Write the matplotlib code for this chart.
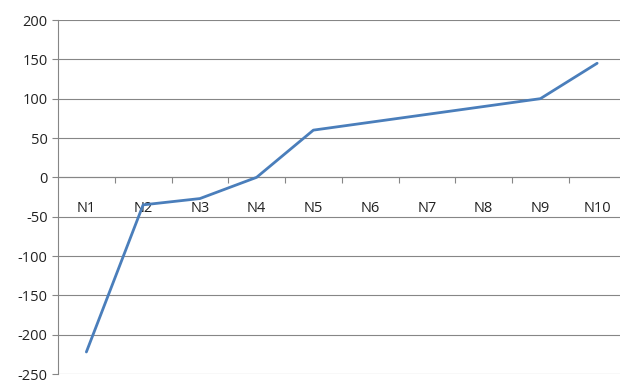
import matplotlib
matplotlib.use("Agg")
import matplotlib.pyplot as plt
from matplotlib.ticker import FixedLocator

categories = ["N1", "N2", "N3", "N4", "N5", "N6", "N7", "N8", "N9", "N10"]
values = [-222, -35, -27, 0, 60, 70, 80, 90, 100, 145]
yticks = [-250, -200, -150, -100, -50, 0, 50, 100, 150, 200]

plt.rcParams['font.family'] = ['Open Sans', 'DejaVu Sans']
grey = "#868686"

fig = plt.figure(figsize=(6.2, 3.8), dpi=100)
ax = fig.add_axes([58/620, 6/380, 567.5/620, 354/380])

x = list(range(len(categories)))
ax.plot(x, values, color="#4A7EBB", linewidth=2.0, solid_capstyle="round", zorder=3)

ax.set_xlim(-0.5, len(categories) - 0.5)
ax.set_ylim(-250, 200)
ax.set_yticks(yticks)
ax.set_yticklabels([str(v) for v in yticks], fontsize=10.5, color="#222222")
ax.yaxis.grid(True, color=grey, linewidth=0.8)
ax.set_axisbelow(True)

for s in ["top", "right"]:
    ax.spines[s].set_visible(False)
ax.spines["left"].set_color(grey)
ax.spines["left"].set_linewidth(0.8)
ax.spines["bottom"].set_position(("data", 0))
ax.spines["bottom"].set_color(grey)
ax.spines["bottom"].set_linewidth(0.8)

ax.tick_params(axis="y", direction="out", length=4.5, width=0.8, color=grey, pad=3)
ax.set_xticks(x)
ax.set_xticklabels(categories, fontsize=10.5, color="#222222")
ax.tick_params(axis="x", which="major", length=0, pad=17)
ax.xaxis.set_minor_locator(FixedLocator([i + 0.5 for i in range(len(categories) - 1)]))
ax.tick_params(axis="x", which="minor", direction="out", length=4.5, width=0.8, color=grey)

fig.savefig("out.png", dpi=100)
